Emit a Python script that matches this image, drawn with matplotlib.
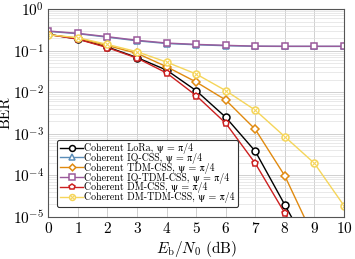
import numpy as np
import matplotlib
matplotlib.use("Agg")
import matplotlib.pyplot as plt
from matplotlib.lines import Line2D

plt.rcParams['mathtext.fontset'] = 'cm'
plt.rcParams['font.family'] = ['cmr10']
plt.rcParams['axes.formatter.use_mathtext'] = True

snr = [0, 1, 2, 3, 4, 5, 6, 7, 8, 9, 10]
lora = [0.246, 0.19, 0.122, 0.068, 0.034, 0.0109, 0.0025, 3.8e-4, 1.95e-5, 1.0e-6, None]
iq_css = [0.29, 0.255, 0.21, 0.172, 0.148, 0.138, 0.131, 0.127, 0.126, 0.126, 0.126]
tdm_css = [0.24, 0.2, 0.132, 0.086, 0.041, 0.0176, 0.0065, 1.28e-3, 9.7e-5, 3.0e-6, None]
iq_tdm_css = [0.296, 0.26, 0.216, 0.177, 0.152, 0.141, 0.134, 0.128, 0.127, 0.127, 0.127]
dm_css = [0.245, 0.188, 0.118, 0.066, 0.029, 0.0083, 0.0018, 1.95e-4, 1.23e-5, 6.0e-7, None]
dm_tdm_css = [0.24, 0.204, 0.141, 0.094, 0.053, 0.0274, 0.0109, 3.7e-3, 8.5e-4, 1.95e-4, 1.87e-5]

labels = ["Coherent LoRa, ψ = π/4",
          "Coherent IQ-CSS, ψ = π/4",
          "Coherent TDM-CSS, ψ = π/4",
          "Coherent IQ-TDM-CSS, ψ = π/4",
          "Coherent DM-CSS, ψ = π/4",
          "Coherent DM-TDM-CSS, ψ = π/4"]

fig = plt.figure(figsize=(3.55, 2.59), dpi=100)
ax = fig.add_axes([48.3/355, 1 - 217/259, (344 - 48.3)/355, (217 - 9)/259])

def arr(v):
    return np.array([np.nan if x is None else x for x in v], dtype=float)

styles = [
    (lora, '#000000', 'o', 5),
    (iq_css, '#5b8db8', '^', 5),
    (tdm_css, '#e08a10', 'D', 4),
    (iq_tdm_css, '#9b5a9b', 's', 4.6),
    (dm_css, '#cc2020', 'p', 5),
    (dm_tdm_css, '#f5d55a', 'o', 5),
]
for (vals, c, m, ms), lab in zip(styles, labels):
    ax.plot(snr, arr(vals), color=c, marker=m, ms=ms, mfc='white', mec=c, mew=1.1, lw=1.0, label=lab)
ax.plot(snr, arr(dm_tdm_css), ls='none', marker='x', ms=3.2, mec='#f5d55a', mew=0.8)

ax.set_yscale('log')
ax.set_xlim(0, 10)
ax.set_ylim(1e-5, 1)
ax.set_xticks(range(11))
ax.set_yticks([1e0, 1e-1, 1e-2, 1e-3, 1e-4, 1e-5])
ax.grid(True, which='major', color='#d0d0d0', lw=0.7)
ax.grid(True, which='minor', axis='y', color='#e0e0e0', lw=0.5)
ax.tick_params(which='both', direction='in', labelsize=11, length=0, pad=3)
for s in ax.spines.values():
    s.set_color('#555555')
    s.set_linewidth(0.8)
ax.set_xlabel(r"$E_\mathrm{b}/N_0$ (dB)", fontsize=11, labelpad=2)
ax.set_ylabel("BER", fontsize=11, labelpad=0)

h, l = ax.get_legend_handles_labels()
h[5] = (h[5], Line2D([], [], ls='none', marker='x', ms=3.2, mec='#f5d55a', mew=0.8))
leg = ax.legend(h, l, loc='lower left', bbox_to_anchor=(0.022, 0.04),
                prop={'family': ['cmr10', 'STIXGeneral', 'DejaVu Serif'], 'size': 7.2},
                frameon=True, fancybox=True, edgecolor='#333333', framealpha=1,
                handlelength=2.3, handletextpad=0.1, borderpad=0.35, labelspacing=-0.12,
                borderaxespad=0.2, markerscale=0.85)
leg.get_frame().set_linewidth(0.8)

fig.savefig('out.png', dpi=100)
